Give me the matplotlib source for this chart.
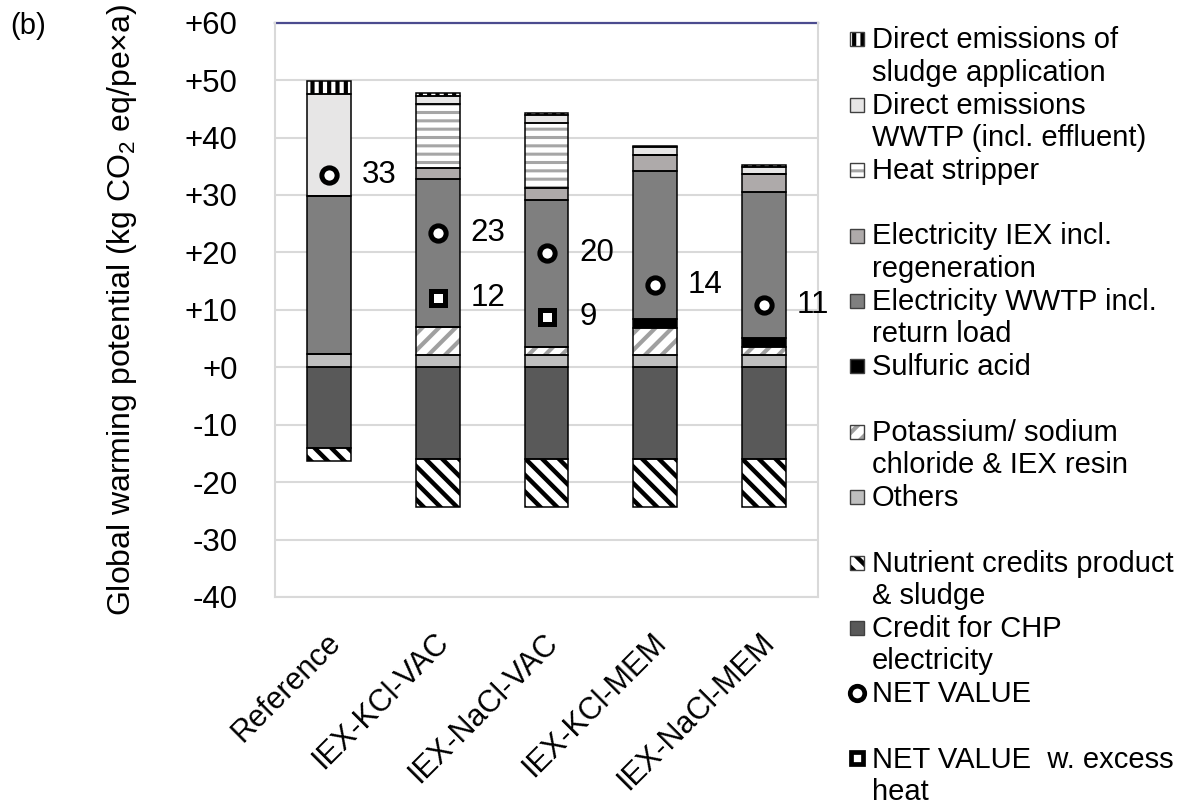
import matplotlib
matplotlib.use("Agg")
import matplotlib.pyplot as plt
from matplotlib.patches import Rectangle
from matplotlib.lines import Line2D
from matplotlib.transforms import ScaledTranslation
import numpy as np

plt.rcParams['font.family'] = ['Liberation Sans', 'DejaVu Sans']
plt.rcParams['mathtext.fontset'] = 'custom'
plt.rcParams['mathtext.rm'] = 'Liberation Sans'
plt.rcParams['mathtext.it'] = 'Liberation Sans:italic'
plt.rcParams['hatch.linewidth'] = 2.5

# ---- data (kg CO2 eq / pe*a) ----
scenarios = ["Reference", "IEX-KCl-VAC", "IEX-NaCl-VAC", "IEX-KCl-MEM", "IEX-NaCl-MEM"]

others            = [2.3, 2.1, 2.1, 2.1, 2.1]
salt_and_resin    = [0.0, 4.9, 1.5, 4.7, 1.4]
sulfuric_acid     = [0.0, 0.0, 0.0, 1.6, 1.6]
electricity_wwtp  = [27.6, 25.7, 25.6, 25.7, 25.5]
electricity_iex   = [0.0, 2.0, 2.0, 2.8, 3.0]
heat_stripper     = [0.0, 11.1, 11.3, 0.0, 0.0]
direct_wwtp       = [17.6, 1.5, 1.4, 1.4, 1.3]
direct_sludge     = [2.3, 0.4, 0.3, 0.3, 0.3]

credit_chp        = [-14.0, -15.9, -15.9, -15.9, -15.9]
nutrient_credits  = [-2.4, -8.4, -8.4, -8.4, -8.4]

net_excess_heat   = [np.nan, 12.0, 8.8, np.nan, np.nan]

yticks = [60, 50, 40, 30, 20, 10, 0, -10, -20, -30, -40]
ytick_labels = ["+60", "+50", "+40", "+30", "+20", "+10", "+0", "-10", "-20", "-30", "-40"]

legend_labels = [
    "Direct emissions of\nsludge application",
    "Direct emissions\nWWTP (incl. effluent)",
    "Heat stripper",
    "Electricity IEX incl.\nregeneration",
    "Electricity WWTP incl.\nreturn load",
    "Sulfuric acid",
    "Potassium/ sodium\nchloride & IEX resin",
    "Others",
    "Nutrient credits product\n& sludge",
    "Credit for CHP\nelectricity",
    "NET VALUE",
    "NET VALUE  w. excess\nheat",
]

# ---- styles: (face colour, hatch, hatch colour, hatch linewidth) ----
STY_SLUDGE = ("white", "||", "black", 3.0)
STY_WWTP = ("#e7e6e6", None, None, None)
STY_HEAT = ("white", "--", "#a6a6a6", 2.2)
STY_ELIEX = ("#aeaaaa", None, None, None)
STY_ELWWTP = ("#7f7f7f", None, None, None)
STY_ACID = ("black", None, None, None)
STY_SALT = ("white", "//", "#a0a0a0", 3.0)
STY_OTHERS = ("#bfbfbf", None, None, None)
STY_NUTR = ("white", "\\\\", "black", 3.2)
STY_CHP = ("#595959", None, None, None)

FS_TICK = 22.5
FS_LEG = 21

W, H = 1186, 810
fig = plt.figure(figsize=(W / 100, H / 100), dpi=100)
ax = fig.add_axes([275 / W, 1 - 597 / H, 543 / W, (597 - 22.7) / H])

x = np.arange(len(scenarios))
bw = 0.405


def draw_series(vals, bottoms, style):
    face, hatch, hcol, hlw = style
    if hatch:
        with plt.rc_context({'hatch.linewidth': hlw}):
            bars = ax.bar(x, vals, bw, bottom=bottoms, color=face,
                          edgecolor=hcol, linewidth=0, hatch=hatch, zorder=2)
        for p in bars:
            if hasattr(p, 'set_hatch_linewidth'):
                p.set_hatch_linewidth(hlw)
    else:
        ax.bar(x, vals, bw, bottom=bottoms, color=face, linewidth=0, zorder=2)
    ax.bar(x, vals, bw, bottom=bottoms, fill=False, edgecolor='black',
           linewidth=1.1, zorder=3)


pos_stack = [
    (others, STY_OTHERS),
    (salt_and_resin, STY_SALT),
    (sulfuric_acid, STY_ACID),
    (electricity_wwtp, STY_ELWWTP),
    (electricity_iex, STY_ELIEX),
    (heat_stripper, STY_HEAT),
    (direct_wwtp, STY_WWTP),
    (direct_sludge, STY_SLUDGE),
]
base = np.zeros(len(x))
for vals, sty in pos_stack:
    v = np.array(vals)
    draw_series(v, base.copy(), sty)
    base += v
pos_total = base.copy()

neg_stack = [(credit_chp, STY_CHP), (nutrient_credits, STY_NUTR)]
base = np.zeros(len(x))
for vals, sty in neg_stack:
    v = np.array(vals)
    draw_series(v, base.copy(), sty)
    base += v
neg_total = base.copy()

net_value = pos_total + neg_total

# net value markers and labels
ax.plot(x, net_value, 'o', ms=11, mfc='white', mec='black', mew=3.6, zorder=5)
for xi, v in zip(x, net_value):
    ax.text(xi + 0.30, v, f"{v:.0f}", fontsize=FS_TICK, va='center', ha='left', zorder=6)
exc = np.array(net_excess_heat)
ax.plot(x, exc, 's', ms=9.5, mfc='white', mec='black', mew=3.6, zorder=5)
for xi, v in zip(x, exc):
    if not np.isnan(v):
        ax.text(xi + 0.30, v, f"{v:.0f}", fontsize=FS_TICK, va='center', ha='left', zorder=6)

# axes styling
ax.set_xlim(-0.5, 4.5)
ax.set_ylim(-40, 60)
ax.set_yticks(yticks)
ax.set_yticklabels(ytick_labels, fontsize=FS_TICK)
ax.yaxis.grid(True, color='#d9d9d9', linewidth=1.5, zorder=0)
ax.set_axisbelow(True)
ax.axhline(60, color='#4b4b8f', linewidth=1.6, zorder=1, clip_on=False)
for s in ['left', 'right', 'bottom']:
    ax.spines[s].set_color('#d9d9d9')
    ax.spines[s].set_linewidth(1.5)
ax.spines['top'].set_visible(False)
ax.tick_params(axis='y', length=0, pad=27)
ax.tick_params(axis='x', length=0, pad=22)
ax.set_xticks(x)
ax.set_xticklabels(scenarios, fontsize=22, rotation=45, ha='right',
                   rotation_mode='anchor', va='top')
shift = ScaledTranslation(-4 / 100, 0, fig.dpi_scale_trans)
for t in ax.get_xticklabels():
    t.set_transform(t.get_transform() + shift)
ax.set_ylabel("Global warming potential (kg CO$_2$ eq/pe×a)", fontsize=23)
ax.yaxis.set_label_coords(-0.25, 0.5)

fig.text(10 / W, 1 - 12 / H, "(b)", fontsize=21, ha='left', va='top')

# ---- legend drawn on a pixel-coordinate overlay ----
lax = fig.add_axes([0, 0, 1, 1], facecolor='none')
lax.set_xlim(0, W)
lax.set_ylim(H, 0)
lax.axis('off')

legend_styles = [STY_SLUDGE, STY_WWTP, STY_HEAT, STY_ELIEX, STY_ELWWTP,
                 STY_ACID, STY_SALT, STY_OTHERS, STY_NUTR, STY_CHP, 'o', 's']
first_baseline = 48.3
entry_step = 65.4
line_step = 32.5
for i, (lab, sty) in enumerate(zip(legend_labels, legend_styles)):
    yb = first_baseline + i * entry_step
    if sty in ('o', 's'):
        ms = 11 if sty == 'o' else 9.5
        lax.add_line(Line2D([856.5], [yb - 9.5], marker=sty, ms=ms * 0.95,
                            mfc='white', mec='black', mew=3.4))
    else:
        face, hatch, hcol, hlw = sty
        if hatch:
            with plt.rc_context({'hatch.linewidth': hlw}):
                r = Rectangle((849.5, yb - 16), 14, 14, facecolor=face,
                              edgecolor=hcol, linewidth=0, hatch=hatch)
            if hasattr(r, 'set_hatch_linewidth'):
                r.set_hatch_linewidth(hlw)
            lax.add_patch(r)
        else:
            lax.add_patch(Rectangle((849.5, yb - 16), 14, 14, facecolor=face,
                                    linewidth=0))
        lax.add_patch(Rectangle((849.5, yb - 16), 14, 14, fill=False,
                                edgecolor='#404040', linewidth=1.0))
    for k, line in enumerate(lab.split("\n")):
        lax.text(872, yb + k * line_step, line, fontsize=FS_LEG, ha='left',
                 va='baseline')

fig.savefig("out.png", dpi=100)
